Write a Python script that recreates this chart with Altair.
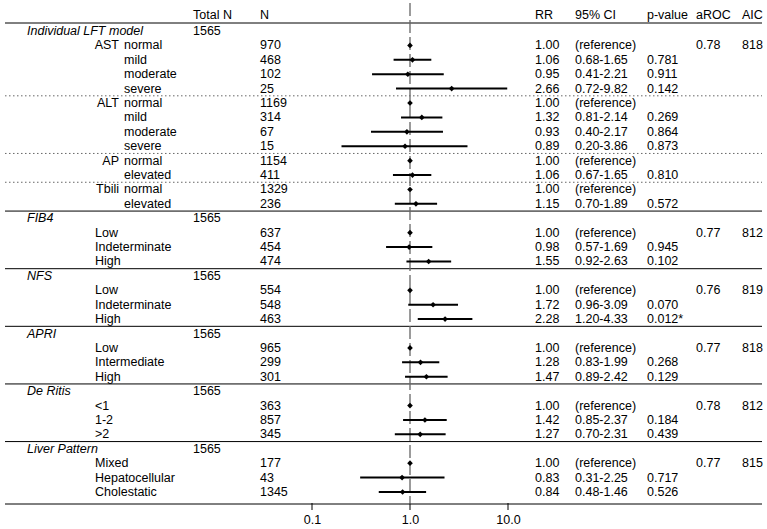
import altair as alt
import pandas as pd

FONT = "Liberation Sans"
FS = 12.5

# ---- model-level data -------------------------------------------------------
GROUP_NAMES = ["Individual LFT model", "FIB4", "NFS", "APRI", "De Ritis", "Liver Pattern"]
GROUP_TOTAL_N = ["1565", "1565", "1565", "1565", "1565", "1565"]
GROUP_AROC = ["0.78", "0.77", "0.76", "0.77", "0.78", "0.77"]
GROUP_AIC = ["818", "812", "819", "818", "812", "815"]

# ---- level-level data -------------------------------------------------------
LEVEL_GROUP = [0] * 12 + [1] * 3 + [2] * 3 + [3] * 3 + [4] * 3 + [5] * 3
LEVEL_VAR = ["AST", "", "", "", "ALT", "", "", "", "AP", "", "Tbili", ""] + [""] * 15
LEVEL_NAME = [
    "normal", "mild", "moderate", "severe",
    "normal", "mild", "moderate", "severe",
    "normal", "elevated",
    "normal", "elevated",
    "Low", "Indeterminate", "High",
    "Low", "Indeterminate", "High",
    "Low", "Intermediate", "High",
    "<1", "1-2", ">2",
    "Mixed", "Hepatocellular", "Cholestatic",
]
LEVEL_N = [970, 468, 102, 25, 1169, 314, 67, 15, 1154, 411, 1329, 236,
           637, 454, 474, 554, 548, 463, 965, 299, 301, 363, 857, 345, 177, 43, 1345]
LEVEL_RR = [1.00, 1.06, 0.95, 2.66, 1.00, 1.32, 0.93, 0.89, 1.00, 1.06, 1.00, 1.15,
            1.00, 0.98, 1.55, 1.00, 1.72, 2.28, 1.00, 1.28, 1.47, 1.00, 1.42, 1.27,
            1.00, 0.83, 0.84]
LEVEL_CI_LOW = [None, 0.68, 0.41, 0.72, None, 0.81, 0.40, 0.20, None, 0.67, None, 0.70,
                None, 0.57, 0.92, None, 0.96, 1.20, None, 0.83, 0.89, None, 0.85, 0.70,
                None, 0.31, 0.48]
LEVEL_CI_HIGH = [None, 1.65, 2.21, 9.82, None, 2.14, 2.17, 3.86, None, 1.65, None, 1.89,
                 None, 1.69, 2.63, None, 3.09, 4.33, None, 1.99, 2.42, None, 2.37, 2.31,
                 None, 2.25, 1.46]
LEVEL_P = ["", "0.781", "0.911", "0.142", "", "0.269", "0.864", "0.873", "", "0.810",
           "", "0.572", "", "0.945", "0.102", "", "0.070", "0.012*", "", "0.268", "0.129",
           "", "0.184", "0.439", "", "0.717", "0.526"]

HEADERS = [("Total N", 193), ("N", 260), ("RR", 535), ("95% CI", 575),
           ("p-value", 647), ("aROC", 696), ("AIC", 742)]
X_TICKS = [0.1, 1.0, 10.0]

# ---- build the table rows ---------------------------------------------------
rows, seps = [], []
r = 0
for g, gname in enumerate(GROUP_NAMES):
    rows.append(dict(row=r, group=gname, total=GROUP_TOTAL_N[g]))
    r += 1
    idx = [i for i, lg in enumerate(LEVEL_GROUP) if lg == g]
    for k, i in enumerate(idx):
        lft = g == 0
        rec = dict(
            row=r,
            var=LEVEL_VAR[i],
            lft_level=LEVEL_NAME[i] if lft else "",
            level=LEVEL_NAME[i] if not lft else "",
            n=str(LEVEL_N[i]),
            rr=LEVEL_RR[i],
            rr_txt=f"{LEVEL_RR[i]:.2f}",
            lo=LEVEL_CI_LOW[i],
            hi=LEVEL_CI_HIGH[i],
            ci_txt="(reference)" if LEVEL_CI_LOW[i] is None
            else f"{LEVEL_CI_LOW[i]:.2f}-{LEVEL_CI_HIGH[i]:.2f}",
            p=LEVEL_P[i],
            aroc=GROUP_AROC[g] if k == 0 else "",
            aic=GROUP_AIC[g] if k == 0 else "",
        )
        rows.append(rec)
        last = k == len(idx) - 1
        if not last and LEVEL_VAR[idx[k + 1]] != "":
            seps.append(dict(row=r + 0.5, kind="dotted"))
        r += 1
    if g < len(GROUP_NAMES) - 1:
        seps.append(dict(row=r - 0.5, kind="solid"))

table = pd.DataFrame(rows).fillna({"group": "", "total": "", "var": "", "lft_level": "",
                                   "level": "", "n": "", "rr_txt": "", "ci_txt": "",
                                   "p": "", "aroc": "", "aic": ""})
levels = table[table["rr"].notna()]
ci = levels[levels["lo"].notna()]

ROW_TOP, ROW_BOTTOM = -2.152, 32.834
HEADER_ROW, HEADER_LINE_ROW = -1.08, -0.555
seps.append(dict(row=HEADER_LINE_ROW, kind="solid"))
seps.append(dict(row=ROW_BOTTOM, kind="solid"))
sep_df = pd.DataFrame(seps)
head_df = pd.DataFrame([dict(row=HEADER_ROW, text=t, px=x) for t, x in HEADERS])

yscale = alt.Scale(domain=[ROW_TOP, ROW_BOTTOM], range=[0, 504], nice=False, zero=False)
xscale = alt.Scale(type="log", domain=[0.1, 10], range=[312, 508], nice=False)
xaxis = alt.Axis(values=X_TICKS, format=".1f", title=None, grid=False, domain=False,
                 labelFont=FONT, labelFontSize=FS, labelColor="black", ticks=False,
                 labelPadding=9, labelFlush=False, labelOverlap=False, orient="bottom")
Y = alt.Y("row:Q", scale=yscale, axis=None)


def text_layer(df, field, px, align="left", style="normal"):
    return alt.Chart(df).mark_text(
        align=align, baseline="middle", font=FONT, fontSize=FS,
        fontStyle=style, color="black"
    ).encode(x=alt.value(px), y=Y, text=f"{field}:N")


solid = alt.Chart(sep_df[sep_df["kind"] == "solid"]).mark_rule(
    color="black", strokeWidth=1
).encode(x=alt.value(5), x2=alt.value(762), y=Y)

dotted = alt.Chart(sep_df[sep_df["kind"] == "dotted"]).mark_rule(
    color="#666666", strokeWidth=1, strokeDash=[1.5, 2.5]
).encode(x=alt.value(5), x2=alt.value(762), y=Y)

# tick marks hanging below the bottom rule
tick_marks = alt.Chart(pd.DataFrame({"rr": X_TICKS})).mark_rule(
    color="black", strokeWidth=1
).encode(x=alt.X("rr:Q", scale=xscale, axis=xaxis), y=alt.value(503), y2=alt.value(510))

ref_line = alt.Chart(pd.DataFrame({"rr": [1.0]})).mark_rule(
    color="#666666", strokeWidth=1.3, strokeDash=[13, 4]
).encode(x=alt.X("rr:Q", scale=xscale, axis=xaxis), y=alt.value(3), y2=alt.value(504))

ci_rules = alt.Chart(ci).mark_rule(color="black", strokeWidth=2).encode(
    x=alt.X("lo:Q", scale=xscale, axis=xaxis), x2="hi:Q", y=Y
)

points = alt.Chart(levels).mark_point(
    shape="diamond", filled=True, color="black", size=32, opacity=1
).encode(x=alt.X("rr:Q", scale=xscale, axis=xaxis), y=Y)

headers = alt.Chart(head_df).mark_text(
    align="left", baseline="middle", font=FONT, fontSize=FS, color="black"
).encode(x=alt.X("px:Q", scale=None), y=Y, text="text:N")

chart = alt.layer(
    solid, dotted, tick_marks, ref_line, ci_rules, points, headers,
    text_layer(table, "group", 27, style="italic"),
    text_layer(table, "total", 193),
    text_layer(table, "var", 119, align="right"),
    text_layer(table, "lft_level", 124),
    text_layer(table, "level", 95),
    text_layer(table, "n", 260),
    text_layer(table, "rr_txt", 535),
    text_layer(table, "ci_txt", 575),
    text_layer(table, "p", 647),
    text_layer(table, "aroc", 696),
    text_layer(table, "aic", 742),
).properties(
    width=767, height=504,
    autosize=alt.AutoSizeParams(type="none"),
    padding={"left": 0, "top": 0, "right": 0, "bottom": 25},
    background="white",
).configure_view(stroke=None)

chart.save("out.html", embed_options={"renderer": "svg", "actions": False})
